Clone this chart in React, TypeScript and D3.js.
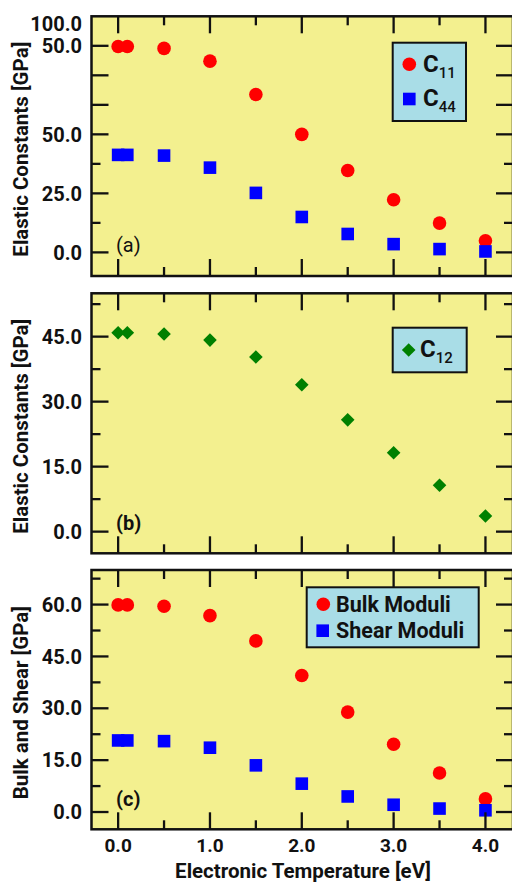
import React from "react";
import * as d3 from "d3";

const temps = [0, 0.1, 0.5, 1.0, 1.5, 2.0, 2.5, 3.0, 3.5, 4.0];
const c11 = [87.2, 87.2, 86.4, 81.0, 66.9, 50.0, 34.7, 22.3, 12.4, 4.9];
const c44 = [41.3, 41.3, 41.0, 35.9, 25.2, 15.0, 7.8, 3.5, 1.4, 0.4];
const c12 = [45.9, 45.9, 45.6, 44.2, 40.3, 33.9, 25.8, 18.2, 10.7, 3.6];
const bulk = [59.9, 59.9, 59.5, 56.8, 49.5, 39.5, 28.9, 19.6, 11.3, 3.8];
const shear = [20.7, 20.7, 20.5, 18.6, 13.5, 8.2, 4.5, 2.1, 1.0, 0.5];

const xMajor = [0, 1, 2, 3, 4];
const xMinor = [0.5, 1.5, 2.5, 3.5];
const xLabels = ["0.0", "1.0", "2.0", "3.0", "4.0"];

const aMajor = [0, 25, 50, 62.5, 75, 87.5];
const aMinor = [12.5, 37.5];
const aLabelVals = [0, 25, 50, 87.5, 97];
const aLabels = ["0.0", "25.0", "50.0", "50.0", "100.0"];

const bMajor = [0, 15, 30, 45];
const bMinor = [7.5, 22.5, 37.5, 52.5];
const bLabels = ["0.0", "15.0", "30.0", "45.0"];

const cMajor = [0, 15, 30, 45, 60];
const cMinor = [7.5, 22.5, 37.5, 52.5, 67.5];
const cLabels = ["0.0", "15.0", "30.0", "45.0", "60.0"];

const FONT = "Roboto, 'DejaVu Sans', sans-serif";
const BG = "#f3f08f";
const LEG = "#a9dde7";
const RED = "#ff0000";
const BLUE = "#0000ff";
const GREEN = "#008000";
const TICK_FS = 20;
const TITLE_FS = 20.5;

const x = d3.scaleLinear().domain([-0.29, 4.3]).range([91.5, 513]);

type Series = { values: number[]; shape: "circle" | "square" | "diamond"; color: string };

function Marker({ cx, cy, shape, color }: { cx: number; cy: number; shape: string; color: string }) {
  if (shape === "circle") return <circle cx={cx} cy={cy} r={6.8} fill={color} />;
  if (shape === "square") return <rect x={cx - 6.3} y={cy - 6.3} width={12.6} height={12.6} fill={color} />;
  const s = 6.8;
  return <path d={`M${cx},${cy - s}L${cx + s},${cy}L${cx},${cy + s}L${cx - s},${cy}Z`} fill={color} />;
}

function Panel(props: {
  top: number;
  bottom: number;
  domain: [number, number];
  major: number[];
  minor: number[];
  labelVals: number[];
  labels: string[];
  series: Series[];
  title: string;
  letter: string;
  letterBold: boolean;
  showX: boolean;
  children?: React.ReactNode;
}) {
  const y = d3.scaleLinear().domain(props.domain).range([props.bottom, props.top]);
  const L = x.range()[0];
  const R = x.range()[1];
  const T = props.top;
  const B = props.bottom;
  const long = 17;
  const short = 9;
  return (
    <g>
      <rect x={L} y={T} width={R - L} height={B - T} fill={BG} />
      {props.series.map((s, si) =>
        s.values.map((v, i) => (
          <Marker key={`${si}-${i}`} cx={x(temps[i])} cy={y(v)} shape={s.shape} color={s.color} />
        ))
      )}
      <g stroke="#111" strokeWidth={2.3}>
        {xMajor.map((t) => (
          <g key={`xm${t}`}>
            <line x1={x(t)} x2={x(t)} y1={T} y2={T + long} />
            <line x1={x(t)} x2={x(t)} y1={B} y2={B - long} />
          </g>
        ))}
        {xMinor.map((t) => (
          <g key={`xn${t}`}>
            <line x1={x(t)} x2={x(t)} y1={T} y2={T + short} />
            <line x1={x(t)} x2={x(t)} y1={B} y2={B - short} />
          </g>
        ))}
        {props.major.map((t) => (
          <g key={`ym${t}`}>
            <line x1={L} x2={L + long} y1={y(t)} y2={y(t)} />
            <line x1={R} x2={R - long} y1={y(t)} y2={y(t)} />
          </g>
        ))}
        {props.minor.map((t) => (
          <g key={`yn${t}`}>
            <line x1={L} x2={L + short} y1={y(t)} y2={y(t)} />
            <line x1={R} x2={R - short} y1={y(t)} y2={y(t)} />
          </g>
        ))}
      </g>
      <rect x={L} y={T} width={R - L} height={B - T} fill="none" stroke="#111" strokeWidth={2.5} />
      {props.labelVals.map((v, i) => (
        <text
          key={`yl${i}`}
          x={82}
          y={y(v)}
          dy="0.36em"
          textAnchor="end"
          fontFamily={FONT}
          fontWeight={700}
          fontSize={TICK_FS}
          fill="#111"
        >
          {props.labels[i]}
        </text>
      ))}
      <text
        transform={`translate(28,${(T + B) / 2 + 3}) rotate(-90)`}
        textAnchor="middle"
        fontFamily={FONT}
        fontWeight={700}
        fontSize={TITLE_FS}
        fill="#111"
      >
        {props.title}
      </text>
      <text
        x={116}
        y={B - 31}
        dy="0.36em"
        fontFamily={FONT}
        fontWeight={props.letterBold ? 700 : 400}
        fontSize={20}
        fill="#111"
      >
        {props.letter}
      </text>
      {props.showX &&
        xMajor.map((t, i) => (
          <text
            key={`xl${t}`}
            x={x(t)}
            y={852}
            textAnchor="middle"
            fontFamily={FONT}
            fontWeight={700}
            fontSize={19}
            fill="#111"
          >
            {xLabels[i]}
          </text>
        ))}
      {props.children}
    </g>
  );
}

export default function App() {
  return (
    <svg
      width={512}
      height={882}
      style={{ position: "absolute", left: 0, top: 0, background: "#fff" }}
    >
      <Panel
        top={16.3}
        bottom={276}
        domain={[-10, 100]}
        major={aMajor}
        minor={aMinor}
        labelVals={aLabelVals}
        labels={aLabels}
        series={[
          { values: c11, shape: "circle", color: RED },
          { values: c44, shape: "square", color: BLUE },
        ]}
        title="Elastic Constants [GPa]"
        letter="(a)"
        letterBold={false}
        showX={false}
      >
        <rect x={392.7} y={42.7} width={73.3} height={78.3} fill={LEG} stroke="#111" strokeWidth={2} />
        <Marker cx={409.3} cy={64.3} shape="circle" color={RED} />
        <text x={423} y={72} fontFamily={FONT} fontWeight={700} fontSize={24} fill="#111">
          C<tspan fontSize={15} fontWeight={500} dy={6}>11</tspan>
        </text>
        <Marker cx={409.3} cy={99} shape="square" color={BLUE} />
        <text x={423} y={106} fontFamily={FONT} fontWeight={700} fontSize={24} fill="#111">
          C<tspan fontSize={15} fontWeight={500} dy={6}>44</tspan>
        </text>
      </Panel>
      <Panel
        top={293.3}
        bottom={553.3}
        domain={[-5, 55]}
        major={bMajor}
        minor={bMinor}
        labelVals={bMajor}
        labels={bLabels}
        series={[{ values: c12, shape: "diamond", color: GREEN }]}
        title="Elastic Constants [GPa]"
        letter="(b)"
        letterBold={true}
        showX={false}
      >
        <rect x={392.7} y={327.7} width={74} height={44.6} fill={LEG} stroke="#111" strokeWidth={2} />
        <Marker cx={408.7} cy={350} shape="diamond" color={GREEN} />
        <text x={420} y={357} fontFamily={FONT} fontWeight={700} fontSize={24} fill="#111">
          C<tspan fontSize={15} fontWeight={500} dy={6}>12</tspan>
        </text>
      </Panel>
      <Panel
        top={570}
        bottom={829.3}
        domain={[-5, 70]}
        major={cMajor}
        minor={cMinor}
        labelVals={cMajor}
        labels={cLabels}
        series={[
          { values: bulk, shape: "circle", color: RED },
          { values: shear, shape: "square", color: BLUE },
        ]}
        title="Bulk and Shear [GPa]"
        letter="(c)"
        letterBold={true}
        showX={true}
      >
        <rect x={306.7} y={587.3} width={172} height={60} fill={LEG} stroke="#111" strokeWidth={2} />
        <Marker cx={323.3} cy={604.3} shape="circle" color={RED} />
        <text x={336} y={604.3} dy="0.36em" fontFamily={FONT} fontWeight={700} fontSize={21.5} fill="#111">
          Bulk Moduli
        </text>
        <Marker cx={322.7} cy={630.7} shape="square" color={BLUE} />
        <text x={336} y={630.7} dy="0.36em" fontFamily={FONT} fontWeight={700} fontSize={21.5} fill="#111">
          Shear Moduli
        </text>
      </Panel>
      <text
        x={303}
        y={878}
        textAnchor="middle"
        fontFamily={FONT}
        fontWeight={700}
        fontSize={TITLE_FS}
        fill="#111"
      >
        Electronic Temperature [eV]
      </text>
    </svg>
  );
}
